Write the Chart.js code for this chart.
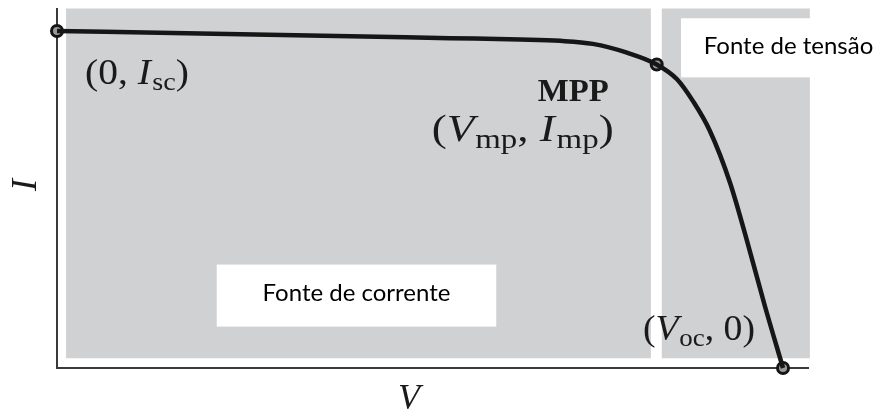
<!DOCTYPE html>
<html>
<head>
<meta charset="utf-8">
<script src="https://cdn.jsdelivr.net/npm/chart.js@4/dist/chart.umd.min.js"></script>
<style>
  html, body { margin: 0; padding: 0; background: #ffffff; }
  #wrap { width: 878px; height: 417px; }
</style>
</head>
<body>
<div id="wrap"><canvas id="iv" width="878" height="417"></canvas></div>
<script>
// I–V curve of a photovoltaic cell (normalised: Voc = 100, Isc = 1)
const voltage = [0, 19.7, 40.4, 54.1, 63.8, 69.3, 73.8, 78.5, 82.6, 85.4, 87.6, 89.9, 92.7, 95.2, 97.5, 100];
const current = [1.0, 0.993, 0.985, 0.979, 0.975, 0.971, 0.962, 0.936, 0.901, 0.857, 0.792, 0.705, 0.550, 0.365, 0.184, 0];

// Characteristic points: short circuit, maximum power point, open circuit
const keyVoltage = [0, 82.6, 100];
const keyCurrent = [1.0, 0.901, 0];

// Operating regions (voltage ranges) shaded behind the curve
const zoneStart = [1.25, 83.3];
const zoneEnd = [81.8, 103.7];
const zoneFloor = 0.029;

// Axis extents
const vMax = 103.44;
const iMax = 1.067;

// Region captions
const captions = ['Fonte de tensão', 'Fonte de corrente'];

const curvePoints = voltage.map((v, k) => ({ x: v, y: current[k] }));
const keyPoints = keyVoltage.map((v, k) => ({ x: v, y: keyCurrent[k] }));

const SERIF = '"Liberation Serif", "DejaVu Serif", serif';
const SANS = 'Lato, "Open Sans", sans-serif';

// Draws a small formula made of roman / italic / subscript pieces,
// stretched horizontally to the requested width
function drawMath(ctx, parts, x, y, size, align, width, weight) {
  const w = weight || 'normal';
  const fontFor = kind => {
    if (kind === 'i') return `italic ${w} ${size}px ${SERIF}`;
    if (kind === 's') return `${w} ${Math.round(size * 0.72)}px ${SERIF}`;
    return `${w} ${size}px ${SERIF}`;
  };
  let total = 0;
  const widths = parts.map(p => {
    if (p[1] === 'gap') return p[0] * size;
    ctx.font = fontFor(p[1]);
    return ctx.measureText(p[0]).width;
  });
  widths.forEach(v => total += v);
  const sx = width ? width / total : 1;
  const drawn = total * sx;
  const x0 = align === 'right' ? x - drawn : (align === 'center' ? x - drawn / 2 : x);
  ctx.save();
  ctx.translate(x0, y);
  ctx.scale(sx, 1);
  ctx.textBaseline = 'alphabetic';
  ctx.textAlign = 'left';
  ctx.fillStyle = '#1a1a1a';
  let cx = 0;
  parts.forEach((p, k) => {
    if (p[1] !== 'gap') {
      ctx.font = fontFor(p[1]);
      const dy = p[1] === 's' ? size * 0.17 : 0;
      ctx.fillText(p[0], cx, dy);
    }
    cx += widths[k];
  });
  ctx.restore();
}

const regionsPlugin = {
  id: 'regions',
  beforeDatasetsDraw(chart) {
    const { ctx, scales: { x, y } } = chart;
    ctx.save();
    ctx.fillStyle = '#d0d1d3';
    zoneStart.forEach((s, k) => {
      const left = x.getPixelForValue(s);
      const right = x.getPixelForValue(zoneEnd[k]);
      const top = y.getPixelForValue(iMax);
      const bottom = y.getPixelForValue(zoneFloor);
      ctx.fillRect(left, top, right - left, bottom - top);
    });
    ctx.restore();
  },
  afterDatasetsDraw(chart) {
    const { ctx, scales: { x, y } } = chart;
    ctx.save();

    // caption boxes
    const boxes = [
      { v0: 85.95, v1: 113.2, i0: 1.038, i1: 0.8626 },
      { v0: 22.0, v1: 60.5, i0: 0.307, i1: 0.1228 }
    ];
    ctx.font = `24px ${SANS}`;
    ctx.textBaseline = 'middle';
    ctx.textAlign = 'center';
    boxes.forEach((b, k) => {
      const l = x.getPixelForValue(b.v0), r = x.getPixelForValue(b.v1);
      const t = y.getPixelForValue(b.i0), btm = y.getPixelForValue(b.i1);
      ctx.fillStyle = '#ffffff';
      ctx.fillRect(l, t, r - l, btm - t);
      ctx.fillStyle = '#000000';
      const tw = k === 0 ? 171 : 192;
      const cx = k === 0 ? l + 22 + tw / 2 : (l + r) / 2;
      ctx.fillText(captions[k], cx, (t + btm) / 2 - 2, tw);
    });

    // point annotations
    const px = keyPoints.map(p => ({ x: x.getPixelForValue(p.x), y: y.getPixelForValue(p.y) }));
    drawMath(ctx, [['(0,', 'r'], [0.25, 'gap'], ['I', 'i'], [0.04, 'gap'], ['sc', 's'], [')', 'r']],
      px[0].x + 28, px[0].y + 53, 35, 'left', 104);
    drawMath(ctx, [['MPP', 'r']], px[1].x - 48, px[1].y + 37, 32, 'right', 71, 'bold');
    drawMath(ctx, [['(', 'r'], ['V', 'i'], [0.02, 'gap'], ['mp', 's'], [',', 'r'], [0.25, 'gap'], ['I', 'i'], [0.04, 'gap'], ['mp', 's'], [')', 'r']],
      px[1].x - 43, px[1].y + 77, 37, 'right', 182);
    drawMath(ctx, [['(', 'r'], ['V', 'i'], [0.02, 'gap'], ['oc', 's'], [',', 'r'], [0.25, 'gap'], ['0)', 'r']],
      px[2].x - 28, px[2].y - 28, 35, 'right', 112);

    // axis names
    ctx.fillStyle = '#1a1a1a';
    ctx.font = `italic 36px ${SERIF}`;
    ctx.textAlign = 'center';
    ctx.textBaseline = 'alphabetic';
    ctx.fillText('V', 409, 409);
    ctx.save();
    ctx.translate(36, 185);
    ctx.rotate(-Math.PI / 2);
    ctx.fillText('I', 0, 0);
    ctx.restore();

    ctx.restore();
  }
};

new Chart(document.getElementById('iv'), {
  type: 'line',
  data: {
    datasets: [
      {
        data: curvePoints,
        borderColor: '#161616',
        borderWidth: 4.5,
        pointRadius: 0,
        cubicInterpolationMode: 'monotone',
        fill: false,
        clip: false
      },
      {
        data: keyPoints,
        showLine: false,
        pointRadius: 5.5,
        pointBorderWidth: 3,
        pointBorderColor: '#151515',
        pointBackgroundColor: '#9a9a9a',
        clip: false
      }
    ]
  },
  options: {
    responsive: false,
    animation: false,
    events: [],
    layout: { padding: { top: 3, right: 70, left: 0, bottom: 0 } },
    plugins: { legend: { display: false }, tooltip: { enabled: false }, title: { display: false } },
    scales: {
      x: {
        type: 'linear', min: 0, max: vMax,
        ticks: { display: false },
        grid: { display: false, drawTicks: false },
        border: { display: true, color: '#3a3a3a', width: 2 },
        afterFit(s) { s.height = 49; }
      },
      y: {
        type: 'linear', min: 0, max: iMax,
        ticks: { display: false },
        grid: { display: false, drawTicks: false },
        border: { display: true, color: '#3a3a3a', width: 2 },
        afterFit(s) { s.width = 57; }
      }
    }
  },
  plugins: [regionsPlugin]
});
</script>
</body>
</html>
